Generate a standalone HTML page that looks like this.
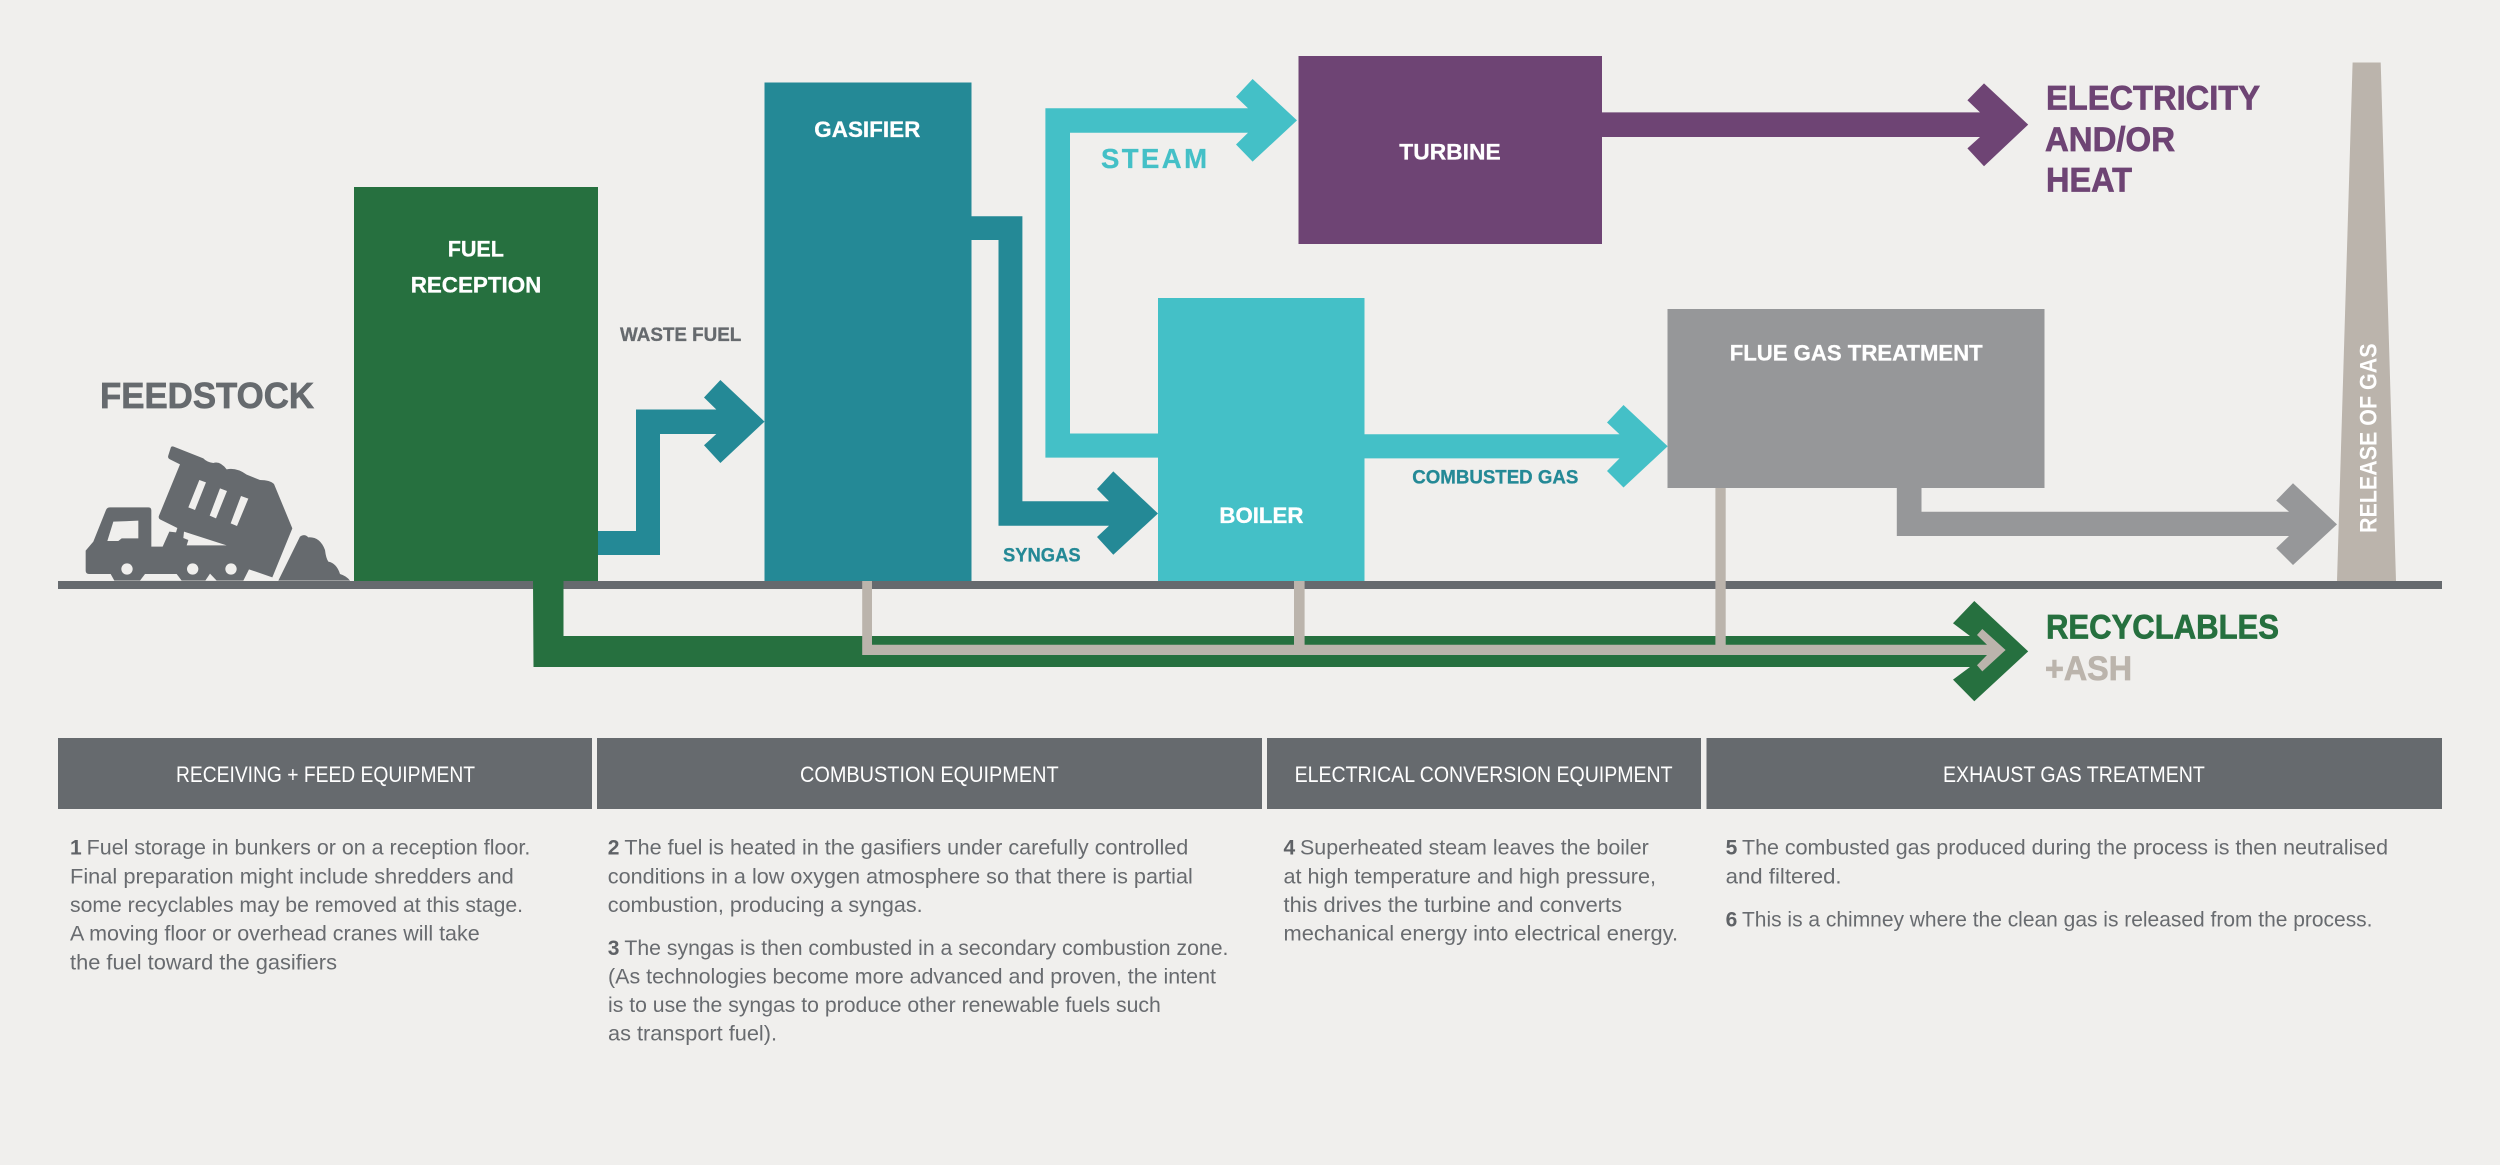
<!DOCTYPE html>
<html lang="en">
<head>
<meta charset="utf-8">
<title>Waste gasification process diagram</title>
<style>
html,body{margin:0;padding:0;background:#f0efed;width:2500px;height:1165px;overflow:hidden}
svg{display:block;font-family:"Liberation Sans",sans-serif}
.b{font-weight:700}
.body text{font-size:21px;fill:#686b6f}
.body text.n{font-weight:700;fill:#5f6266}
.hd text{font-size:22px;fill:#fff}
.w{fill:#fff;font-weight:700;font-size:22.5px;stroke:#fff;stroke-width:.3px}
</style>
</head>
<body>
<svg width="2500" height="1165" viewBox="0 0 2500 1165" xmlns="http://www.w3.org/2000/svg">
<rect width="2500" height="1165" fill="#f0efed"/>

<!-- ground -->
<rect x="58" y="581" width="2384" height="8" fill="#666a6e"/>

<!-- truck -->
<g transform="translate(70,430) scale(.33333)" fill="#666a6e">
  <path d="M47,362 L70,335 L108,240 Q111,232 120,232 L235,232 Q244,232 244,241 L244,350 L278,350 L298,305 L318,307 L322,294 L270,268 Q264,264 267,257 L330,103 L300,88 Q292,84 295,76 L302,54 Q304,47 311,50 L400,85 Q410,96 430,99 Q450,92 470,118 Q500,112 530,134 L570,150 Q600,150 612,162 L667,295 L607,442 L537,418 L520,452 L133,452 L122,432 L57,432 Q47,432 47,422 Z"/>
  <path d="M625,452 L690,320 Q703,310 715,322 Q750,320 765,360 Q768,385 775,395 Q800,400 810,432 Q830,438 840,452 Z"/>
  <g fill="#f0efed">
    <path d="M130,275 L205,272 L205,325 L155,325 L145,333 L112,333 Z"/>
    <path d="M388,150 L408,157 L375,240 L355,232 Z"/>
    <path d="M450,175 L471,183 L438,265 L419,257 Z"/>
    <path d="M513,198 L535,206 L501,288 L482,280 Z"/>
    <path d="M342,305 L470,346 L350,346 L355,330 L340,324 Z"/>
    <circle cx="171" cy="417" r="17"/>
    <circle cx="368" cy="417" r="17"/>
    <circle cx="483" cy="417" r="17"/>
    <path d="M210,452 L225,432 L320,432 L335,452 Z"/>
    <path d="M406,452 L420,431 L440,452 Z"/>
  </g>
</g>

<!-- boxes -->
<rect x="354" y="187" width="244" height="394" fill="#26703f"/>
<rect x="764.5" y="82.5" width="207" height="498.5" fill="#248996"/>
<rect x="1158" y="298" width="206.5" height="283" fill="#44c0c7"/>
<rect x="1298.5" y="56" width="303.5" height="188" fill="#6e4474"/>
<rect x="1667.5" y="309" width="377" height="179" fill="#969799"/>
<path d="M2352.6,62.5 L2380.7,62.5 L2396,581 L2337,581 Z" fill="#bbb4ac"/>

<!-- arrows -->
<path fill="#248996" d="M598,531 L636,531 L636,409.5 L716.3,409.5 L704,397.5 L720.4,380 L764.5,421.6 L720.4,463 L704,445.3 L716.3,434 L660,434 L660,555 L598,555 Z"/>
<path fill="#248996" d="M971,216.3 L1022.4,216.3 L1022.4,501.2 L1109,501.2 L1097,489 L1113.3,471.4 L1158,513.5 L1113.3,554.7 L1097,537 L1109,525.7 L998.5,525.7 L998.5,240 L971,240 Z"/>
<path fill="#44c0c7" d="M1158,433.5 L1070,433.5 L1070,132.7 L1248,132.7 L1236,144.5 L1252.6,161.6 L1297,120.4 L1252.6,79 L1236,96.7 L1248,108.2 L1045.4,108.2 L1045.4,457.6 L1158,457.6 Z"/>
<path fill="#44c0c7" d="M1364,434.3 L1619.5,434.3 L1607,422.5 L1623.5,405 L1667.7,446.3 L1623.5,487.5 L1607,471 L1619.5,458.4 L1364,458.4 Z"/>
<path fill="#969799" d="M1896.8,488 L1921.5,488 L1921.5,511.8 L2289,511.8 L2276.2,500.5 L2293,483.2 L2337,524.4 L2293,565 L2276.2,548.2 L2289,536 L1896.8,536 Z"/>
<path fill="#6e4474" d="M1602,112.4 L1980,112.4 L1967.4,100.3 L1984,83.4 L2028.2,124.6 L1984,166.2 L1967.4,148.4 L1980,137 L1602,137 Z"/>
<path fill="#26703f" d="M533,581 L563.5,581 L563.5,636 L1970,636 L1953,623.3 L1974.3,601 L2028.2,651.4 L1974.3,701.3 L1953,679.6 L1970,667 L533.5,667 Z"/>
<path fill="#bbb4ac" d="M862.2,581 L872,581 L872,644.7 L1294,644.7 L1294,581 L1304.6,581 L1304.6,644.7 L1715.4,644.7 L1715.4,488 L1725.7,488 L1725.7,644.7 L1987,644.7 L1977,635 L1982.3,629 L2005.6,650 L1982.3,671.4 L1977,665.3 L1987,655 L862.2,655 Z"/>

<!-- labels -->
<text class="b" x="100" y="408" font-size="36" fill="#666a6e" stroke="#666a6e" stroke-width=".7" textLength="214" lengthAdjust="spacingAndGlyphs">FEEDSTOCK</text>
<text class="w" x="447.7" y="256.7" textLength="56.3" lengthAdjust="spacingAndGlyphs">FUEL</text>
<text class="w" x="410.7" y="292.7" textLength="130.6" lengthAdjust="spacingAndGlyphs">RECEPTION</text>
<text class="w" x="814.3" y="137" textLength="106" lengthAdjust="spacingAndGlyphs">GASIFIER</text>
<text class="w" x="1399.3" y="159.5" textLength="101.4" lengthAdjust="spacingAndGlyphs">TURBINE</text>
<text class="w" x="1219.4" y="523" textLength="84" lengthAdjust="spacingAndGlyphs">BOILER</text>
<text class="w" x="1729.7" y="360.5" textLength="253" lengthAdjust="spacingAndGlyphs">FLUE GAS TREATMENT</text>
<text class="b" x="620" y="340.8" font-size="19" fill="#666a6e" stroke="#666a6e" stroke-width=".3" textLength="121.3" lengthAdjust="spacingAndGlyphs">WASTE FUEL</text>
<text class="b" x="1101" y="168" font-size="27.5" fill="#44c0c7" stroke="#44c0c7" stroke-width=".3" textLength="106" lengthAdjust="spacing">STEAM</text>
<text class="b" x="1003" y="561.6" font-size="19" fill="#248996" stroke="#248996" stroke-width=".3" textLength="77.6" lengthAdjust="spacingAndGlyphs">SYNGAS</text>
<text class="b" x="1412.3" y="483.3" font-size="19" fill="#248996" stroke="#248996" stroke-width=".3" textLength="166" lengthAdjust="spacingAndGlyphs">COMBUSTED GAS</text>
<text class="b" x="2046" y="109.7" font-size="34" fill="#6e4474" stroke="#6e4474" stroke-width=".7" textLength="214" lengthAdjust="spacingAndGlyphs">ELECTRICITY</text>
<text class="b" x="2045" y="150.9" font-size="34" fill="#6e4474" stroke="#6e4474" stroke-width=".7" textLength="130" lengthAdjust="spacingAndGlyphs">AND/OR</text>
<text class="b" x="2046" y="191.6" font-size="34" fill="#6e4474" stroke="#6e4474" stroke-width=".7" textLength="86" lengthAdjust="spacingAndGlyphs">HEAT</text>
<text class="b" x="2046" y="638.5" font-size="34" fill="#26703f" stroke="#26703f" stroke-width=".7" textLength="233" lengthAdjust="spacingAndGlyphs">RECYCLABLES</text>
<text class="b" x="2045" y="680" font-size="34" fill="#bbb4ac" stroke="#bbb4ac" stroke-width=".7" textLength="87" lengthAdjust="spacingAndGlyphs">+ASH</text>
<text class="b" transform="translate(2376.5,533) rotate(-90)" font-size="24" fill="#fff" textLength="189.5" lengthAdjust="spacingAndGlyphs">RELEASE OF GAS</text>

<!-- headers -->
<g fill="#666a6e">
  <rect x="58" y="738" width="534" height="71"/>
  <rect x="597" y="738" width="665" height="71"/>
  <rect x="1267" y="738" width="434" height="71"/>
  <rect x="1706.5" y="738" width="735.5" height="71"/>
</g>
<g class="hd">
  <text x="176" y="782" textLength="299" lengthAdjust="spacingAndGlyphs">RECEIVING + FEED EQUIPMENT</text>
  <text x="800" y="782" textLength="258.6" lengthAdjust="spacingAndGlyphs">COMBUSTION EQUIPMENT</text>
  <text x="1294.6" y="782" textLength="378" lengthAdjust="spacingAndGlyphs">ELECTRICAL CONVERSION EQUIPMENT</text>
  <text x="1943" y="782" textLength="261.8" lengthAdjust="spacingAndGlyphs">EXHAUST GAS TREATMENT</text>
</g>

<!-- body -->
<g class="body">
  <text class="n" x="70" y="854.7">1</text>
  <text x="86.7" y="854.7" textLength="443.6" lengthAdjust="spacingAndGlyphs">Fuel storage in bunkers or on a reception floor.</text>
  <text x="70" y="883.3" textLength="443.7" lengthAdjust="spacingAndGlyphs">Final preparation might include shredders and</text>
  <text x="70" y="912" textLength="453" lengthAdjust="spacingAndGlyphs">some recyclables may be removed at this stage.</text>
  <text x="70" y="940.7" textLength="409.7" lengthAdjust="spacingAndGlyphs">A moving floor or overhead cranes will take</text>
  <text x="70" y="969.3" textLength="267" lengthAdjust="spacingAndGlyphs">the fuel toward the gasifiers</text>

  <text class="n" x="607.8" y="854.7">2</text>
  <text x="624.4" y="854.7" textLength="563.9" lengthAdjust="spacingAndGlyphs">The fuel is heated in the gasifiers under carefully controlled</text>
  <text x="607.8" y="883.3" textLength="585" lengthAdjust="spacingAndGlyphs">conditions in a low oxygen atmosphere so that there is partial</text>
  <text x="607.8" y="912" textLength="314.8" lengthAdjust="spacingAndGlyphs">combustion, producing a syngas.</text>
  <text class="n" x="607.8" y="955">3</text>
  <text x="624.4" y="955" textLength="604" lengthAdjust="spacingAndGlyphs">The syngas is then combusted in a secondary combustion zone.</text>
  <text x="608" y="983.7" textLength="608" lengthAdjust="spacingAndGlyphs">(As technologies become more advanced and proven, the intent</text>
  <text x="608" y="1012" textLength="552.8" lengthAdjust="spacingAndGlyphs">is to use the syngas to produce other renewable fuels such</text>
  <text x="608" y="1040.7" textLength="169" lengthAdjust="spacingAndGlyphs">as transport fuel).</text>

  <text class="n" x="1283.5" y="854.7">4</text>
  <text x="1300" y="854.7" textLength="348.8" lengthAdjust="spacingAndGlyphs">Superheated steam leaves the boiler</text>
  <text x="1283.5" y="883.3" textLength="372.5" lengthAdjust="spacingAndGlyphs">at high temperature and high pressure,</text>
  <text x="1283.5" y="912" textLength="338.5" lengthAdjust="spacingAndGlyphs">this drives the turbine and converts</text>
  <text x="1283.5" y="940.7" textLength="394.6" lengthAdjust="spacingAndGlyphs">mechanical energy into electrical energy.</text>

  <text class="n" x="1725.6" y="854.7">5</text>
  <text x="1742" y="854.7" textLength="646" lengthAdjust="spacingAndGlyphs">The combusted gas produced during the process is then neutralised</text>
  <text x="1725.6" y="883.3" textLength="116" lengthAdjust="spacingAndGlyphs">and filtered.</text>
  <text class="n" x="1725.6" y="926.7">6</text>
  <text x="1742" y="926.7" textLength="630.5" lengthAdjust="spacingAndGlyphs">This is a chimney where the clean gas is released from the process.</text>
</g>
</svg>
</body>
</html>
